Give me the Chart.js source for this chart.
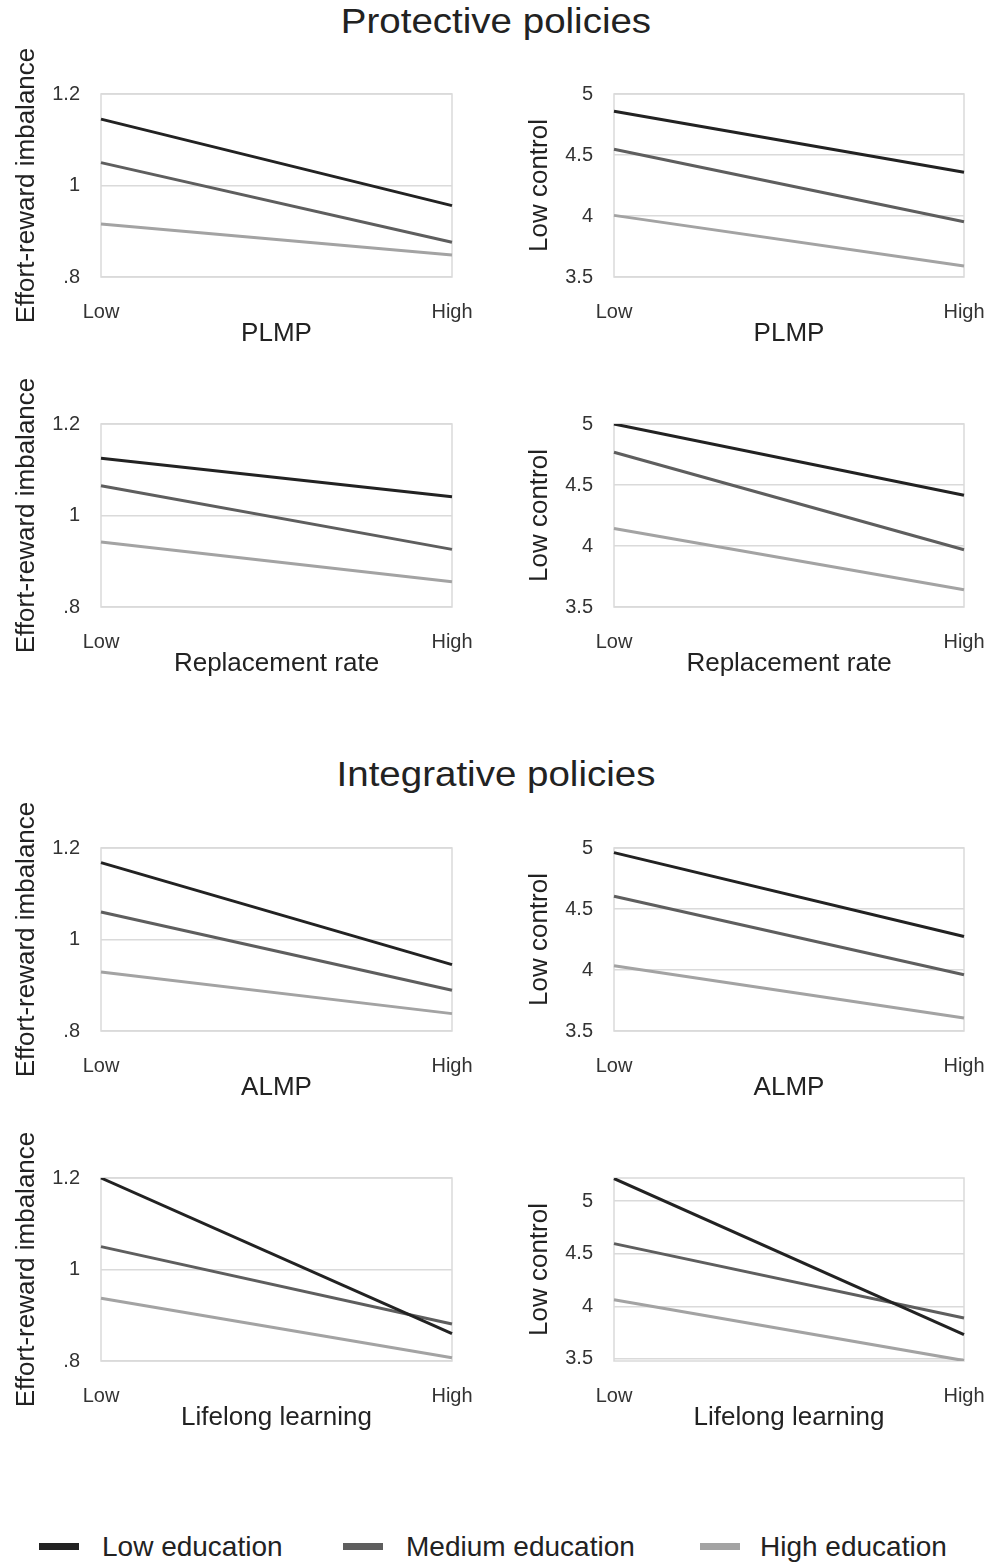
<!DOCTYPE html>
<html>
<head>
<meta charset="utf-8">
<title>Protective and integrative policies</title>
<script src="https://cdn.jsdelivr.net/npm/chart.js@4.4.1/dist/chart.umd.min.js"></script>
<style>
  body { margin: 0; background: #fff; width: 1005px; height: 1562px; position: relative; overflow: hidden;
         font-family: "Liberation Sans", Arial, sans-serif; }
  canvas { position: absolute; }
  .section { position: absolute; left: 0; width: 992px; text-align: center; font-size: 35px; line-height: 40px; color: #222;
             transform: scaleX(1.1); transform-origin: 496px 0; }
  .leg { position: absolute; top: 1532px; font-size: 28px; line-height: 30px; color: #222; white-space: nowrap; }
  .leg span { position: absolute; left: 0; top: 11px; width: 40px; height: 7px; }
</style>
</head>
<body>
<div class="section" style="top:1px">Protective policies</div>
<div class="section" style="top:754px">Integrative policies</div>
<div id="legend"></div>

<script>
"use strict";

var xLabels = ["Low", "High"];
var eduNames = ["Low education", "Medium education", "High education"];
var eduColors = ["#222222", "#5e5e5e", "#a3a3a3"];

// effort-reward imbalance: [low edu], [medium edu], [high edu] at Low / High
var plmpEri = [[1.145, 0.956], [1.050, 0.876], [0.916, 0.848]];
var replEri = [[1.125, 1.041], [1.065, 0.926], [0.942, 0.855]];
var almpEri = [[1.168, 0.945], [1.060, 0.889], [0.929, 0.838]];
var lllEri  = [[1.200, 0.860], [1.050, 0.881], [0.937, 0.807]];

// low control
var plmpCtrl = [[4.858, 4.359], [4.547, 3.953], [4.005, 3.590]];
var replCtrl = [[5.000, 4.416], [4.768, 3.969], [4.144, 3.642]];
var almpCtrl = [[4.962, 4.275], [4.605, 3.961], [4.035, 3.606]];
var lllCtrl  = [[5.215, 3.730], [4.596, 3.888], [4.062, 3.484]];

var eriTicks = [0.8, 1, 1.2];
var eriTickLabels = [".8", "1", "1.2"];
var ctrlTicks = [3.5, 4, 4.5, 5];
var ctrlTickLabels = ["3.5", "4", "4.5", "5"];

var gridColor = "#dadada";

// draws the light frame round each plot
var framePlugin = {
  id: "frame",
  beforeDatasetsDraw: function (chart) {
    var a = chart.chartArea, ctx = chart.ctx;
    ctx.save();
    ctx.strokeStyle = gridColor;
    ctx.lineWidth = 1.5;
    ctx.strokeRect(a.left, a.top, a.right - a.left, a.bottom - a.top);
    ctx.restore();
  }
};

var panels = [
  { data: plmpEri,  x: "PLMP", y: "Effort-reward imbalance", ticks: eriTicks, labels: eriTickLabels, min: 0.8, max: 1.2, col: 0, top: 94 },
  { data: plmpCtrl, x: "PLMP", y: "Low control", ticks: ctrlTicks, labels: ctrlTickLabels, min: 3.5, max: 5, col: 1, top: 94 },
  { data: replEri,  x: "Replacement rate", y: "Effort-reward imbalance", ticks: eriTicks, labels: eriTickLabels, min: 0.8, max: 1.2, col: 0, top: 424 },
  { data: replCtrl, x: "Replacement rate", y: "Low control", ticks: ctrlTicks, labels: ctrlTickLabels, min: 3.5, max: 5, col: 1, top: 424 },
  { data: almpEri,  x: "ALMP", y: "Effort-reward imbalance", ticks: eriTicks, labels: eriTickLabels, min: 0.8, max: 1.2, col: 0, top: 848 },
  { data: almpCtrl, x: "ALMP", y: "Low control", ticks: ctrlTicks, labels: ctrlTickLabels, min: 3.5, max: 5, col: 1, top: 848 },
  { data: lllEri,   x: "Lifelong learning", y: "Effort-reward imbalance", ticks: eriTicks, labels: eriTickLabels, min: 0.8, max: 1.2, col: 0, top: 1178 },
  { data: lllCtrl,  x: "Lifelong learning", y: "Low control", ticks: ctrlTicks, labels: ctrlTickLabels, min: 3.48, max: 5.22, col: 1, top: 1178 }
];

// column geometry: canvas left, canvas width, y-axis width, right padding, y-title offset
var cols = [
  { left: 0, width: 490, axisW: 101, padR: 38, titlePad: 11 },
  { left: 502, width: 503, axisW: 112, padR: 41, titlePad: 22 }
];
var padTop = 50, plotH = 183, xAxisH = 72;

panels.forEach(function (p) {
  var c = cols[p.col];
  var cv = document.createElement("canvas");
  cv.width = c.width;
  cv.height = padTop + plotH + xAxisH;
  cv.style.left = c.left + "px";
  cv.style.top = (p.top - padTop) + "px";
  cv.style.width = c.width + "px";
  cv.style.height = cv.height + "px";
  document.body.appendChild(cv);

  new Chart(cv, {
    type: "line",
    data: {
      labels: xLabels,
      datasets: p.data.map(function (vals, i) {
        return {
          label: eduNames[i],
          data: vals,
          borderColor: eduColors[i],
          backgroundColor: eduColors[i],
          borderWidth: 3,
          pointRadius: 0,
          tension: 0,
          fill: false
        };
      })
    },
    options: {
      responsive: false,
      animation: false,
      events: [],
      layout: { autoPadding: false, padding: { top: padTop, right: c.padR, left: 0, bottom: 0 } },
      plugins: { legend: { display: false }, tooltip: { enabled: false } },
      scales: {
        x: {
          type: "category",
          offset: false,
          grid: { display: false, drawTicks: false },
          border: { display: false },
          ticks: { padding: 23, color: "#333", font: { size: 20 }, maxRotation: 0, autoSkip: false },
          afterFit: function (s) { s.height = xAxisH; s.paddingLeft = 0; s.paddingRight = 0; },
          title: { display: true, text: p.x, color: "#222", font: { size: 26 }, padding: 0 }
        },
        y: {
          min: p.min,
          max: p.max,
          afterBuildTicks: function (s) { s.ticks = p.ticks.map(function (v) { return { value: v }; }); },
          afterFit: function (s) { s.width = c.axisW; },
          grid: { color: gridColor, lineWidth: 1.5, drawTicks: false },
          border: { display: false },
          ticks: {
            padding: 21, color: "#333", font: { size: 20 },
            callback: function (v, i) { return p.labels[i]; }
          },
          title: { display: true, text: p.y, color: "#222", font: { size: 26 }, padding: { top: c.titlePad, bottom: 0 } }
        }
      }
    },
    plugins: [framePlugin]
  });
});

// legend
var legLefts = [39, 343, 700];
var legend = document.getElementById("legend");
eduNames.forEach(function (name, i) {
  var d = document.createElement("div");
  d.className = "leg";
  d.style.left = legLefts[i] + "px";
  d.style.paddingLeft = (i == 2 ? 60 : 63) + "px";
  d.innerHTML = '<span style="background:' + eduColors[i] + '"></span>' + name;
  legend.appendChild(d);
});
</script>
</body>
</html>
